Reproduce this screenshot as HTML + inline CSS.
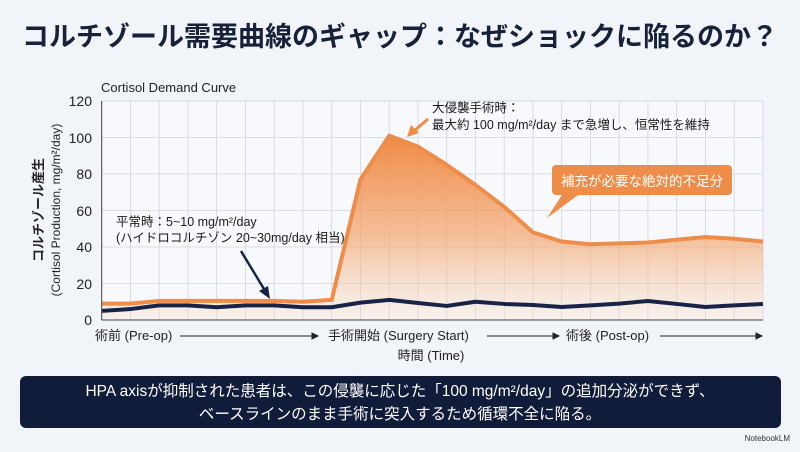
<!DOCTYPE html>
<html><head><meta charset="utf-8"><style>
body{margin:0;width:800px;height:447px;background:#f1f4f8;overflow:hidden;font-family:"Liberation Sans","Noto Sans CJK JP",sans-serif;}
</style></head><body>
<svg width="800" height="447" viewBox="0 0 800 447" xmlns="http://www.w3.org/2000/svg" font-family="Liberation Sans, Noto Sans CJK JP, sans-serif">
<defs>
<linearGradient id="g" x1="0" y1="0" x2="0" y2="1">
<stop offset="0" stop-color="#ef8a45" stop-opacity="1"/>
<stop offset="0.55" stop-color="#f3a56e" stop-opacity="0.7"/>
<stop offset="1" stop-color="#f8d9c0" stop-opacity="0.25"/>
</linearGradient>
</defs>
<rect width="800" height="447" fill="#f1f4f8"/>
<text x="400" y="46" text-anchor="middle" font-size="27" font-weight="bold" fill="#17213a">コルチゾール需要曲線のギャップ：なぜショックに陥るのか？</text>
<text x="101" y="92" font-size="13" fill="#222">Cortisol Demand Curve</text>
<rect x="101.7" y="101" width="661.3" height="219" fill="#f7f9fc"/>
<g id="grid" stroke="#cfd5de" stroke-width="0.8"></g>
<path id="area" fill="url(#g)"/>
<polyline id="orange" fill="none" stroke="#ee8c4a" stroke-width="4" stroke-linejoin="round"/>
<polyline id="navy" fill="none" stroke="#172448" stroke-width="4" stroke-linejoin="round"/>
<line x1="101.7" y1="101" x2="101.7" y2="320" stroke="#444" stroke-width="1"/>
<line x1="101.7" y1="320" x2="763" y2="320" stroke="#444" stroke-width="1"/>
<g font-size="14" fill="#222" text-anchor="end">
<text x="92" y="325">0</text><text x="92" y="289">20</text><text x="92" y="252">40</text><text x="92" y="216">60</text><text x="92" y="179">80</text><text x="92" y="143">100</text><text x="92" y="106">120</text>
</g>
<text transform="translate(43,210) rotate(-90)" text-anchor="middle" font-size="13" font-weight="bold" fill="#222">コルチゾール産生</text>
<text transform="translate(60,210) rotate(-90)" text-anchor="middle" font-size="12" fill="#222">(Cortisol Production, mg/m²/day)</text>
<g font-size="13" fill="#222">
<text x="95" y="340">術前 (Pre-op)</text>
<text x="328" y="340">手術開始 (Surgery Start)</text>
<text x="566" y="340">術後 (Post-op)</text>
<text x="431" y="360" text-anchor="middle">時間 (Time)</text>
</g>
<g stroke="#222" stroke-width="1" fill="#222">
<line x1="180" y1="336" x2="314" y2="336"/><path d="M318 336 l-6 -3 v6z"/>
<line x1="487" y1="336" x2="555" y2="336"/><path d="M559 336 l-6 -3 v6z"/>
<line x1="660" y1="336" x2="758" y2="336"/><path d="M762 336 l-6 -3 v6z"/>
</g>
<text x="116" y="226" font-size="12.5" fill="#1a1a1a">平常時：5~10 mg/m²/day</text>
<text x="116" y="242" font-size="12.5" fill="#1a1a1a">(ハイドロコルチゾン 20~30mg/day 相当)</text>
<line x1="241" y1="251" x2="264" y2="289" stroke="#172448" stroke-width="2.5"/>
<path d="M270 299 l-11 -8 l9 -5z" fill="#172448"/>
<text x="432" y="112" font-size="12.5" fill="#1a1a1a">大侵襲手術時：</text>
<text x="432" y="129" font-size="12.5" fill="#1a1a1a">最大約 100 mg/m²/day まで急増し、恒常性を維持</text>
<line x1="428" y1="119" x2="414" y2="131" stroke="#ee8c4a" stroke-width="3"/>
<path d="M407 137 l4 -12 l8 8z" fill="#ee8c4a"/>
<path d="M556 165 h172 a4 4 0 0 1 4 4 v22 a4 4 0 0 1 -4 4 h-150 l-31 23 l15 -23 h-6 a4 4 0 0 1 -4 -4 v-22 a4 4 0 0 1 4 -4z" fill="#ee8c4a"/>
<text x="642" y="186" text-anchor="middle" font-size="13.5" fill="#fff">補充が必要な絶対的不足分</text>
<rect x="20" y="376" width="761" height="52" rx="6" fill="#111c3a"/>
<text x="400" y="396" text-anchor="middle" font-size="15.5" fill="#fff">HPA axisが抑制された患者は、この侵襲に応じた「100 mg/m²/day」の追加分泌ができず、</text>
<text x="400" y="419" text-anchor="middle" font-size="15.5" fill="#fff">ベースラインのまま手術に突入するため循環不全に陥る。</text>
<text x="790" y="441" text-anchor="end" font-size="8" fill="#333">NotebookLM</text>
</svg>
<script>
const X=i=>101.7+28.75*i, Y=v=>320-1.825*v;
const o=[9,9,10.5,10.5,10.5,10.5,10.5,10,11,77,101,95,85,74,62,48,43,41.5,42,42.5,44,45.5,44.5,43];
const n=[5,6,8,8,7,8,8,7,7,9.5,11,9.3,7.7,10,8.8,8.2,7.1,8,9,10.4,8.8,7.1,8,8.8];
const g=document.getElementById('grid');let s='';
for(let i=0;i<=23;i++)s+=`<line x1="${X(i)}" y1="101" x2="${X(i)}" y2="320"/>`;
for(let v=20;v<=120;v+=20)s+=`<line x1="101.7" y1="${Y(v)}" x2="763" y2="${Y(v)}"/>`;
g.innerHTML=s;
const op=o.map((v,i)=>X(i)+','+Y(v)).join(' ');
document.getElementById('orange').setAttribute('points',op);
document.getElementById('navy').setAttribute('points',n.map((v,i)=>X(i)+','+Y(v)).join(' '));
document.getElementById('area').setAttribute('d','M'+op.split(' ').join(' L')+` L${X(23)},320 L${X(0)},320Z`);
</script>
</body></html>
